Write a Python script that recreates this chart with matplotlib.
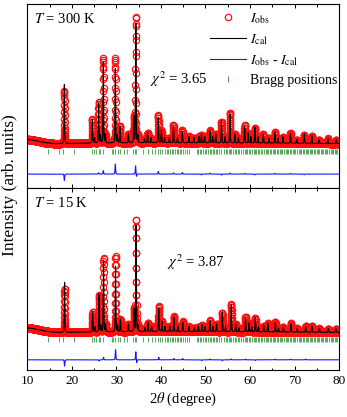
import numpy as np
import matplotlib.pyplot as plt
from matplotlib.lines import Line2D
from matplotlib.ticker import MultipleLocator

plt.rcParams['font.family'] = ['Liberation Serif', 'DejaVu Serif']
plt.rcParams['mathtext.fontset'] = 'stix'

# #############################################################################
# Peak lists (2theta, height; base line = 0)
pos_300 = [18.3, 24.6, 25.1, 26.0, 26.4, 27.05, 27.5, 29.75, 30.2, 30.8, 32.7, 33.9,
           34.35, 34.8, 36.3, 37.0, 37.8, 39.4, 40.1, 40.8, 41.9, 42.8, 43.7, 44.8,
           46.3, 47.4, 48.5, 49.1, 49.8, 51.0, 51.6, 52.3, 53.6, 54.4, 55.5, 56.6,
           57.4, 58.8, 59.6, 60.2, 61.1, 61.8, 63.0, 64.3, 65.6, 66.3, 67.4, 69.1,
           70.5, 72.2, 73.9, 75.5, 77.5, 79.4]
obs_300 = [0.42, 0.19, 0.04, 0.33, 0.06, 0.67, 0.07, 0.67, 0.06, 0.13, 0.07, 0.21,
           1.00, 0.06, 0.03, 0.08, 0.04, 0.22, 0.10, 0.04, 0.04, 0.14, 0.04, 0.10,
           0.05, 0.04, 0.05, 0.06, 0.05, 0.10, 0.05, 0.07, 0.17, 0.05, 0.24, 0.07,
           0.04, 0.14, 0.08, 0.05, 0.12, 0.05, 0.07, 0.04, 0.09, 0.04, 0.05, 0.08,
           0.03, 0.07, 0.06, 0.03, 0.04, 0.03]

pos_15 = [18.35, 24.65, 25.15, 26.1, 26.5, 27.1, 27.55, 29.8, 30.25, 30.9, 32.7, 33.95,
          34.4, 34.85, 36.4, 37.1, 37.9, 39.5, 40.2, 40.9, 42.0, 42.9, 43.8, 44.9,
          46.3, 47.5, 48.4, 49.2, 49.9, 51.0, 51.7, 52.5, 53.8, 54.5, 55.8, 56.8,
          57.5, 59.0, 59.8, 60.4, 61.2, 61.9, 63.1, 64.0, 65.7, 66.4, 67.5, 69.2,
          70.6, 72.5, 73.9, 75.6, 77.6, 79.3]
obs_15 = [0.35, 0.16, 0.04, 0.29, 0.05, 0.59, 0.06, 0.60, 0.05, 0.10, 0.06, 0.18,
          0.89, 0.05, 0.03, 0.07, 0.04, 0.20, 0.08, 0.04, 0.04, 0.12, 0.04, 0.08,
          0.04, 0.03, 0.04, 0.05, 0.04, 0.09, 0.04, 0.06, 0.15, 0.04, 0.22, 0.06,
          0.03, 0.12, 0.07, 0.04, 0.11, 0.04, 0.05, 0.07, 0.08, 0.03, 0.04, 0.07,
          0.03, 0.05, 0.05, 0.03, 0.03, 0.03]

# misfit (I_obs - I_cal) at the reflections
dpos_300 = [18.3, 26.0, 27.05, 29.75, 34.3, 34.5, 39.4, 42.8, 44.8, 49.1, 51.0,
            53.6, 55.5, 58.8, 61.1, 65.6, 69.1, 72.2]
damp_300 = [-0.05, 0.01, 0.027, 0.08, 0.066, -0.02, 0.02, 0.01, 0.012, -0.006, 0.007,
            -0.008, 0.008, 0.006, -0.006, 0.006, 0.005, -0.005]
dpos_15 = [18.35, 26.1, 27.1, 29.8, 34.35, 34.55, 39.5, 42.9, 44.9, 49.2, 51.0,
           53.8, 55.8, 59.0, 61.2, 65.7, 69.2, 72.5]
damp_15 = [-0.05, -0.01, 0.02, 0.08, 0.065, -0.025, 0.02, 0.01, 0.01, -0.006, 0.006,
           -0.007, 0.007, 0.006, -0.005, 0.005, 0.005, 0.006]

# background nodes
bkg_tt = [10.0, 11.0, 12.5, 14.0, 16.0, 18.0, 25.0, 40.0, 60.0, 80.0]
bkg_300 = [0.030, 0.025, 0.015, 0.004, -0.004, -0.004, 0.0, 0.004, 0.001, -0.004]
bkg_15 = [0.032, 0.028, 0.018, 0.006, -0.003, -0.004, 0.0, 0.004, 0.001, -0.004]

bragg = [14.7, 17.0, 18.1, 20.5, 24.6, 25.0, 25.4, 26.0, 26.3, 27.05, 28.9, 29.3,
         29.75, 30.4, 30.9, 31.7, 32.3, 33.8, 34.2, 34.5, 36.0, 37.1, 37.9, 38.6,
         39.4, 39.8, 40.3, 40.9, 41.3, 41.6, 42.0, 42.4, 42.8, 43.1, 43.5, 43.9,
         44.3, 44.6, 45.0, 45.5, 45.9, 46.3, 48.0, 48.4, 48.7, 49.1, 49.5, 49.8,
         50.2, 50.6, 51.0, 51.3, 51.7, 52.0, 52.3, 52.7, 53.1, 53.6, 54.2, 54.5,
         54.9, 55.2, 55.5, 55.8, 56.2, 56.6, 56.9, 57.3, 57.6, 58.0, 58.4, 58.8,
         59.1, 59.4, 59.8, 60.1, 60.4, 60.8, 61.1, 61.4, 61.8, 62.1, 62.5, 62.8,
         63.1, 63.5, 63.8, 64.1, 64.4, 64.8, 65.1, 65.4, 65.7, 66.0, 66.4, 66.7,
         67.0, 67.3, 67.7, 68.0, 68.3, 68.6, 69.0, 69.3, 69.6, 69.9, 70.2, 70.6,
         70.9, 71.2, 71.5, 71.8, 72.1, 72.5, 72.8, 73.1, 73.4, 73.7, 74.0, 74.3,
         74.7, 75.0, 75.3, 75.6, 75.9, 76.2, 76.5, 76.8, 77.1, 77.4, 77.8, 78.1,
         78.4, 78.7, 79.0, 79.3, 79.6, 79.9]


def profile(tt, pos, height, fwhm=0.16, eta=0.25):
    # pseudo-Voigt peak sum
    out = np.zeros_like(tt)
    for p, h in zip(pos, height):
        x = (tt - p) / (fwhm / 2)
        out += h * (eta / (1 + x**2) + (1 - eta) * np.exp(-np.log(2) * x**2))
    return out


tt = np.arange(10.2, 79.95, 0.016)

panels = [
    dict(pos=pos_300, h=obs_300, dp=dpos_300, da=damp_300, bkg=bkg_300,
         ylim=(-0.357, 1.103), tick=(-0.087, -0.048), doff=-0.246,
         T='$T$ = 300 K', chi='$\\chi^2$ = 3.65', chixy=(37.5, 0.51)),
    dict(pos=pos_15, h=obs_15, dp=dpos_15, da=damp_15, bkg=bkg_15,
         ylim=(-0.302, 1.143), tick=(-0.079, -0.040), doff=-0.222,
         T='$T$ = 15 K', chi='$\\chi^2$ = 3.87', chixy=(41.3, 0.555)),
]

fig = plt.figure(figsize=(3.47, 4.17), dpi=100)
ax1 = fig.add_axes([0.079, 0.549, 0.898, 0.441])
ax2 = fig.add_axes([0.079, 0.113, 0.898, 0.436], sharex=ax1)

for ax, p in zip([ax1, ax2], panels):
    bkg = np.interp(tt, bkg_tt, p['bkg'])
    y_obs = profile(tt, p['pos'], p['h']) + bkg
    diff = profile(tt, p['dp'], p['da'])
    y_cal = y_obs - diff

    ax.plot(tt, y_obs, 'o', mfc='none', mec='#ff1010', ms=4.6, mew=0.85)
    ax.plot(tt, y_cal, '-', color='black', lw=0.8)
    ax.plot(tt, diff + p['doff'], '-', color='#1414ff', lw=0.8)
    ax.vlines(bragg, p['tick'][0], p['tick'][1], color='#3c9e3c', lw=0.6)

    ax.set_ylim(*p['ylim'])
    ax.set_xlim(10, 80)
    ax.xaxis.set_major_locator(MultipleLocator(10))
    ax.xaxis.set_minor_locator(MultipleLocator(5))
    ax.tick_params(axis='x', which='both', direction='in', top=True, labelsize=9.5)
    ax.tick_params(axis='x', which='major', length=3.0, width=0.7)
    ax.tick_params(axis='x', which='minor', length=1.8, width=0.7)
    ax.tick_params(axis='y', left=False, labelleft=False)
    for s in ax.spines.values():
        s.set_linewidth(0.8)

    ax.text(0.02, 0.955, p['T'], transform=ax.transAxes, fontsize=10.5, va='top')
    ax.text(p['chixy'][0], p['chixy'][1], p['chi'], fontsize=10.5, va='center')

ax1.tick_params(axis='x', labelbottom=False)
ax2.set_xlabel('2$\\theta$ (degree)', fontsize=10.5, labelpad=3)
fig.text(0.028, 0.555, 'Intensity (arb. units)', rotation=90,
         va='center', ha='center', fontsize=12.5)

handles = [
    Line2D([], [], ls='none', marker='o', mfc='none', mec='#ff1010', ms=4.6, mew=0.9),
    Line2D([], [], color='black', lw=0.8),
    Line2D([], [], color='#1414ff', lw=0.8),
    Line2D([], [], ls='none', marker='|', color='#3c9e3c', mec='#3c9e3c', ms=5, mew=0.7),
]
labels = ['$I_{\\rm obs}$', '$I_{\\rm cal}$', '$I_{\\rm obs}$ - $I_{\\rm cal}$', 'Bragg positions']
ax1.legend(handles, labels, loc='upper right', bbox_to_anchor=(1.035, 1.03), frameon=False,
           fontsize=10, handlelength=2.6, handletextpad=0.3, labelspacing=0.45, numpoints=1)

plt.savefig('out.png', dpi=100)
